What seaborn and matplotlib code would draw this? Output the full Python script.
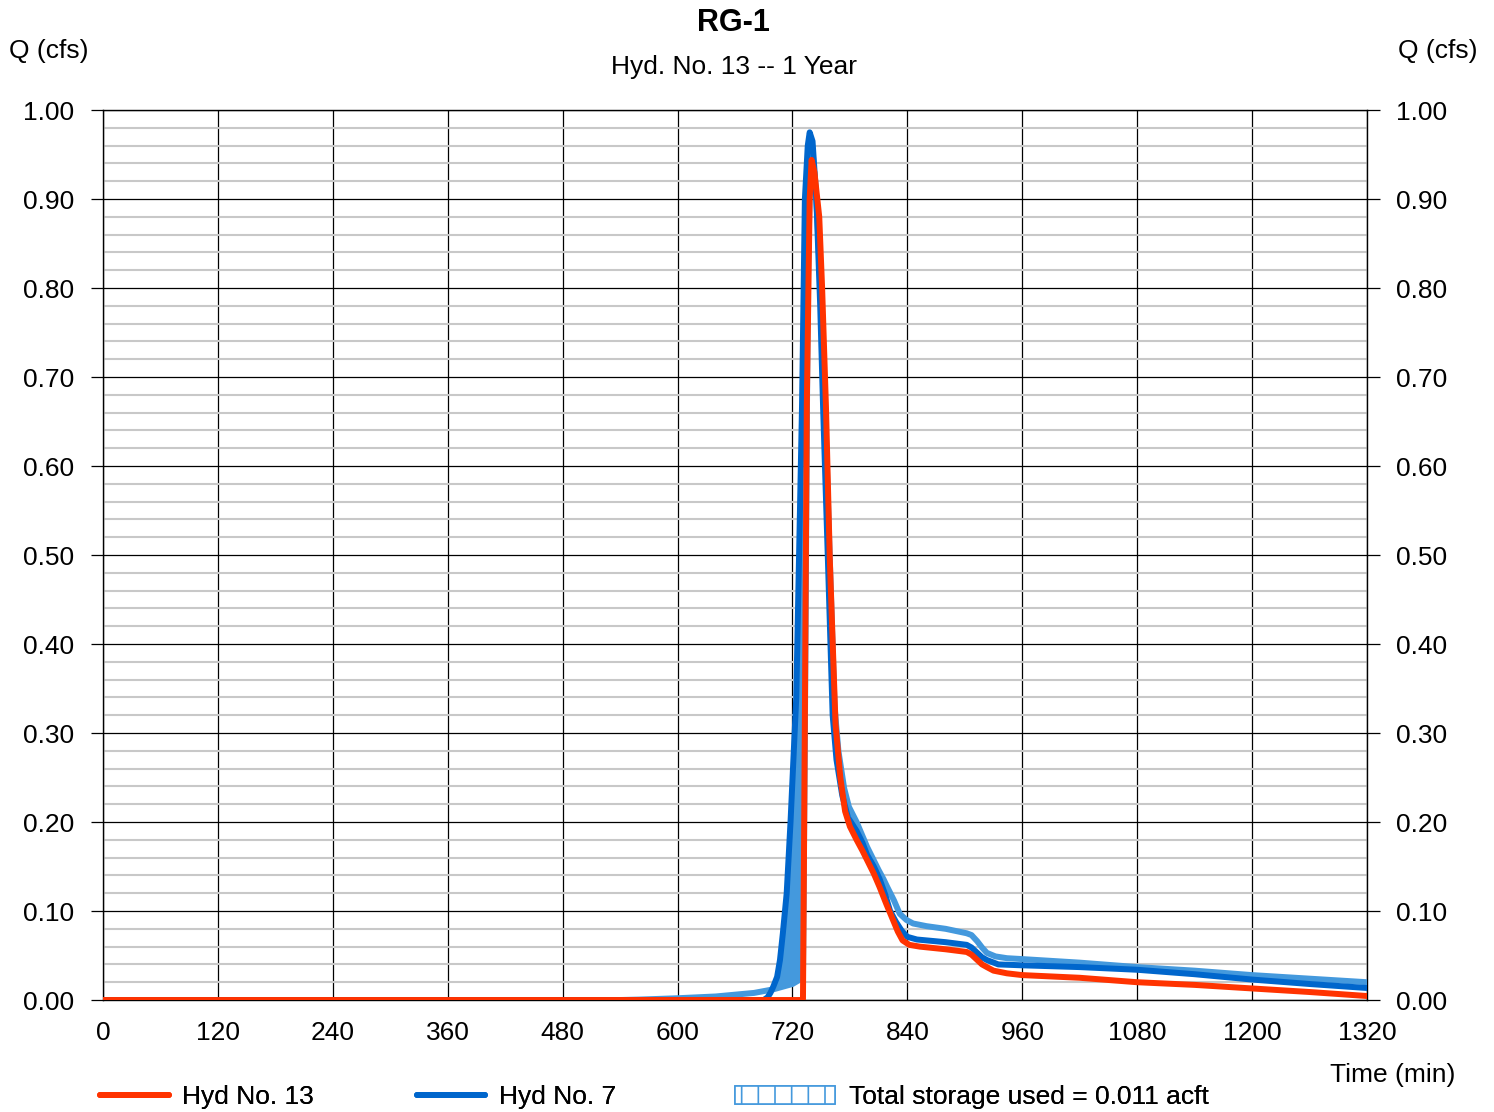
import numpy as np
import pandas as pd
import matplotlib
matplotlib.use("Agg")
import matplotlib.pyplot as plt
from matplotlib.lines import Line2D
from matplotlib.patches import Patch
import seaborn as sns

# Hyd No. 13 (outflow) - min / cfs
out_t = [0, 730, 731, 732, 733, 735, 738, 740, 743, 748, 751, 755, 759, 765, 770, 775, 780, 787, 793, 799,
         805, 811, 818, 825, 830, 835, 842, 853, 880, 902, 907, 913, 918, 923, 930, 944, 960, 1020, 1080,
         1140, 1200, 1260, 1320]
out_q = [0, 0, 0, 0.15, 0.32, 0.667, 0.9, 0.944, 0.93, 0.88, 0.8, 0.667, 0.496, 0.31, 0.25, 0.212, 0.195, 0.18, 0.168, 0.155,
         0.142, 0.127, 0.108, 0.09, 0.077, 0.067, 0.062, 0.06, 0.057, 0.054, 0.051, 0.045, 0.04, 0.037, 0.033, 0.030, 0.028,
         0.025, 0.020, 0.017, 0.013, 0.009, 0.0045]

# Hyd No. 7 (inflow)
in_t = [0, 690, 694, 697, 700, 704, 707, 710, 714, 718, 724, 730, 733, 736, 738, 741, 745, 749, 752, 757, 762, 766,
        772, 778, 787, 793, 798, 805, 811, 817, 822, 828, 834, 840, 850, 860, 880, 902, 907, 913, 918, 923, 935, 960,
        1020, 1080, 1140, 1200, 1260, 1320]
in_q = [0, 0, 0.003, 0.008, 0.015, 0.026, 0.045, 0.075, 0.12, 0.2, 0.34, 0.667, 0.9, 0.96, 0.975, 0.965, 0.9, 0.78,
        0.667, 0.496, 0.32, 0.27, 0.23, 0.205, 0.19, 0.177, 0.163, 0.15, 0.136, 0.118, 0.1, 0.088, 0.078, 0.071, 0.068,
        0.067, 0.065, 0.062, 0.059, 0.053, 0.048, 0.045, 0.04, 0.039, 0.037, 0.034, 0.029, 0.023, 0.018, 0.0135]

# storage hatch outline
st_t = [0, 540, 560, 600, 640, 680, 700, 720, 731, 733, 736, 739, 741, 746, 750, 754, 759, 764, 768, 774, 779, 787,
        798, 804, 810, 815, 819, 826, 832, 839, 846, 860, 880, 902, 907, 913, 918, 923, 932, 944, 960, 1020, 1080,
        1140, 1200, 1260, 1320]
st_q = [0, 0, 0.0005, 0.002, 0.004, 0.008, 0.012, 0.018, 0.025, 0.3, 0.8, 0.965, 0.955, 0.88, 0.78, 0.667, 0.496,
        0.33, 0.28, 0.238, 0.217, 0.2, 0.172, 0.159, 0.146, 0.136, 0.127, 0.112, 0.097, 0.09, 0.086, 0.083, 0.08,
        0.075, 0.073, 0.066, 0.059, 0.053, 0.049, 0.047, 0.046, 0.042, 0.037, 0.033, 0.028, 0.024, 0.020]

x_ticks = list(range(0, 1321, 120))
y_ticks = [0.0, 0.1, 0.2, 0.3, 0.4, 0.5, 0.6, 0.7, 0.8, 0.9, 1.0]

RED = "#ff3300"
BLUE = "#0066cc"
LIGHT = "#4499dd"

sns.set_style("white")
plt.rcParams["font.family"] = ["Liberation Sans", "DejaVu Sans"]
plt.rcParams["text.color"] = "black"
plt.rcParams["xtick.color"] = "black"
plt.rcParams["ytick.color"] = "black"
plt.rcParams["hatch.color"] = LIGHT
plt.rcParams["hatch.linewidth"] = 1.2

fig = plt.figure(figsize=(14.94, 11.12), dpi=100)
ax = fig.add_axes([0.0689, 0.1007, 0.8461, 0.8003])

df_out = pd.DataFrame({"t": out_t, "q": out_q})
df_in = pd.DataFrame({"t": in_t, "q": in_q})
df_st = pd.DataFrame({"t": st_t, "q": st_q})

# storage fill between inflow and hatch line before outflow starts
grid_t = np.linspace(600, 731, 300)
g_in = np.interp(grid_t, in_t, in_q)
g_st = np.interp(grid_t, st_t, st_q)
ax.fill_between(grid_t, g_st, g_in, where=g_in > g_st, color=LIGHT, lw=0, zorder=3)

kw = dict(lw=4.3, solid_capstyle="round", solid_joinstyle="round")
sns.lineplot(data=df_st, x="t", y="q", ax=ax, color=LIGHT, zorder=4, **kw)
sns.lineplot(data=df_in, x="t", y="q", ax=ax, color=BLUE, zorder=5, **kw)
sns.lineplot(data=df_out, x="t", y="q", ax=ax, color=RED, zorder=6, **kw)

ax.set_xlim(0, 1320)
ax.set_ylim(0, 1.0)
ax.set_xticks(x_ticks)
ax.set_xticklabels([str(v) for v in x_ticks])
ax.set_yticks(y_ticks)
ax.set_yticklabels([f"{v:.2f}" for v in y_ticks])
ax.set_yticks(np.arange(0, 1.0001, 0.02), minor=True)
ax.set_xlabel("")
ax.set_ylabel("")

ax.grid(which="minor", axis="y", color="#c8c8c8", lw=1.5, zorder=1)
ax.grid(which="major", axis="y", color="black", lw=0.9, zorder=2)
ax.grid(which="major", axis="x", color="black", lw=0.9, zorder=2)

ax.tick_params(axis="y", which="major", direction="out", length=9, width=0.9,
               left=True, right=True, labelleft=True, labelright=True, labelsize=19, pad=12)
ax.tick_params(axis="y", which="minor", length=0)
ax.tick_params(axis="x", which="major", length=0, labelsize=19, pad=15)
for s in ax.spines.values():
    s.set_color("black")
    s.set_linewidth(1.0)

fig.text(0.491, 0.979, "RG-1", ha="center", va="center", fontsize=22, fontweight="bold")
fig.text(0.491, 0.94, "Hyd. No. 13 -- 1 Year", ha="center", va="center", fontsize=19)
fig.text(0.006, 0.954, "Q (cfs)", ha="left", va="center", fontsize=19)
fig.text(0.989, 0.954, "Q (cfs)", ha="right", va="center", fontsize=19)
fig.text(0.974, 0.033, "Time (min)", ha="right", va="center", fontsize=19)

# legend: three entries placed along the bottom
entries = [
    (Line2D([0], [0], color=RED, lw=4.3, solid_capstyle="round"), "Hyd No. 13", 0.0669, 2.6),
    (Line2D([0], [0], color=BLUE, lw=4.3, solid_capstyle="round"), "Hyd No. 7", 0.279, 2.6),
    (Patch(facecolor="white", edgecolor=LIGHT, hatch="|", lw=1.2), "Total storage used = 0.011 acft", 0.492, 3.8),
]
for h, lab, x0, hl in entries:
    leg = fig.legend([h], [lab], loc="center left", bbox_to_anchor=(x0, 0.0135), frameon=False,
                     fontsize=19, handlelength=hl, handletextpad=0.5, borderaxespad=0, borderpad=0)
    fig.add_artist(leg)

fig.savefig("out.png", dpi=100)
